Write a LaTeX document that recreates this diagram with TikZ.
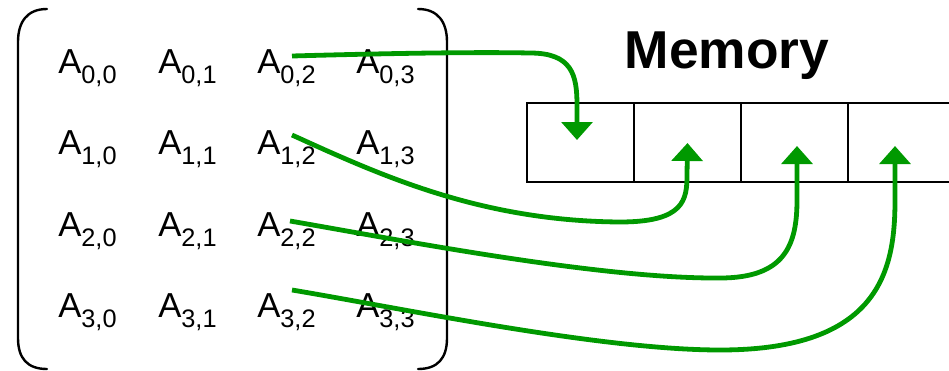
\documentclass[tikz,border=0pt]{standalone}
\usepackage{fontspec}
\setmainfont{Liberation Sans}
\usetikzlibrary{arrows.meta,calc}
\definecolor{flow}{RGB}{0,153,0}
\newcommand{\entry}[2]{\fontsize{26}{26}\selectfont A\raisebox{-7.5pt}{\fontsize{19}{19}\selectfont #1,#2}}
\begin{document}
\begin{tikzpicture}[x={(0.75pt,0)},y={(0,-0.75pt)},
  bracket/.style={line width=1.8pt,line cap=round},
  cell/.style={draw,line width=1.5pt,minimum width=80.25pt,minimum height=59.25pt,inner sep=0pt},
  elem/.style={inner sep=0pt,anchor=base west},
  store/.style={draw=flow,line width=3.6pt,-{Triangle[width=23pt,length=13.5pt]}}]
\useasboundingbox (0,0) rectangle (949,371);

% matrix brackets
\draw[bracket] (47,9) .. controls (27,9) and (18,22) .. (18,42) -- (18,338)
  .. controls (18,358) and (27,369) .. (47,369);
\draw[bracket] (418,9) .. controls (438,9) and (447,22) .. (447,42) -- (447,338)
  .. controls (447,358) and (438,369) .. (418,369);

% matrix entries
\foreach \r/\yy in {0/73,1/154.5,2/236,3/317.5}
  \foreach \c/\xx in {0/58,1/158,2/257,3/356}
    \node[elem] (a\r\c) at (\xx,\yy) {\entry{\r}{\c}};

% memory title and cells
\node[inner sep=0pt,anchor=base] (title) at (727,68)
  {\fontsize{40}{40}\selectfont\bfseries Memory};
\node[cell] (m0) at (580.5,142.5) {};
\node[cell] (m1) at (687.5,142.5) {};
\node[cell] (m2) at (794.5,142.5) {};
\node[cell] (m3) at (901.5,142.5) {};

% start points next to column 2 and landing points in the cells
\coordinate (s0) at (292,56);
\coordinate (s1) at (292,135);
\coordinate (s2) at (290,221);
\coordinate (s3) at (292,290);
\coordinate (t0) at ($(m0.center)+(-3.5,-2.5)$);
\coordinate (t1) at ($(m1.center)+(0,0.5)$);
\coordinate (t2) at ($(m2.center)+(2.5,3.5)$);
\coordinate (t3) at ($(m3.center)+(-6.5,3.5)$);

% column 2 stored into consecutive memory cells
\draw[store] (s0) .. controls (400,53) and (480,52) .. (530,53)
  .. controls (572,53) and (577,75) .. (577,105) -- (t0);
\draw[store] (s1) .. controls (380,175) and (480,221) .. (620,222)
  .. controls (684,222) and (687,200) .. (687,175) -- (t1);
\draw[store] (s2) .. controls (400,240) and (600,279) .. (720,278)
  .. controls (785,278) and (797,245) .. (797,200) -- (t2);
\draw[store] (s3) .. controls (400,308) and (600,350) .. (720,350)
  .. controls (880,350) and (895,270) .. (895,200) -- (t3);
\end{tikzpicture}
\end{document}
